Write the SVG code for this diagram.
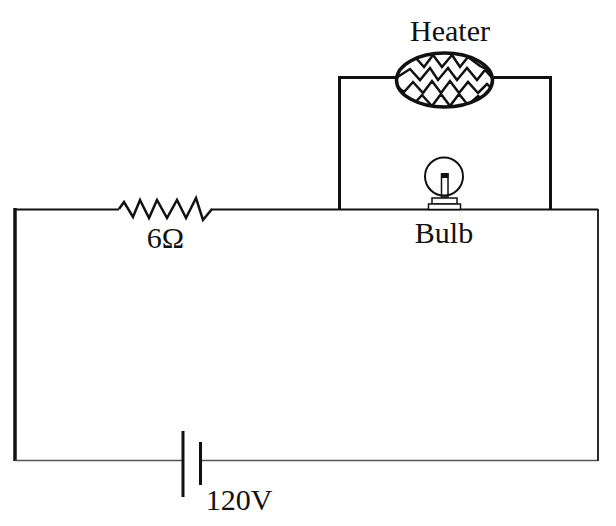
<svg xmlns="http://www.w3.org/2000/svg" width="616" height="526" viewBox="0 0 616 526">
<style>
.w{fill:none;stroke:#111;stroke-linejoin:miter}
.t{font-family:"Liberation Serif","Times New Roman",serif;fill:#111;text-anchor:middle;font-size:30px}
</style>
<defs><clipPath id="hc"><ellipse cx="444.500" cy="80" rx="48" ry="27"/></clipPath></defs>
<rect width="616" height="526" fill="#fff"/>
<g id="connectors">
<path class="w" stroke-width="2" d="M15 209.500H119M211 209.500H598"/>
<path class="w" stroke-width="3.500" d="M15 208V461"/>
<path class="w" stroke-width="1.500" style="stroke:#555" d="M15 460.500H183M201 460.500H598"/>
<path class="w" stroke-width="1.800" d="M598 209V461"/>
<path class="w" stroke-width="3" d="M339.500 209V77.500H396M494 77.500H550.500V209"/>
</g>
<g id="resistor">
<path class="w" stroke-width="2.500" d="M119 209L124 202L133 217L140 200L149 218L157 200L167 218L177 200L186 218L196 198L203 220L212 209"/>
<text class="t" x="165.500" y="248">6Ω</text>
</g>
<g id="heater">
<g clip-path="url(#hc)">
<path class="w" stroke-width="2.500" d="M405 62L415 57L424 67L433 55L442 67L452 55L460 67L468 57L480 66L492 72M396 78L410 69L420 80L430 68L438 80L448 68L457 80L467 68L477 80L485 70L496 82M396 86L404 92L413 82L423 93L432 81L441 93L450 81L459 93L468 82L478 93L487 84L496 92M400 92L413 105L422 95L432 106L441 94L450 106L459 94L468 105L478 96L490 104"/>
</g>
<ellipse class="w" stroke-width="3.500" cx="444.500" cy="80" rx="48" ry="27"/>
<text class="t" x="450" y="41">Heater</text>
</g>
<g id="bulb">
<circle class="w" stroke-width="2" cx="444" cy="176.500" r="19"/>
<rect class="w" stroke-width="1.500" x="441.500" y="174" width="6.500" height="23"/>
<rect x="441" y="173" width="7.500" height="5" fill="#111"/>
<rect x="432" y="198" width="25" height="6" fill="#fff" stroke="#111" stroke-width="1.500"/>
<rect x="428.500" y="204" width="32" height="5.500" fill="#fff" stroke="#111" stroke-width="1.500"/>
<text class="t" x="444" y="243">Bulb</text>
</g>
<g id="battery">
<path class="w" stroke-width="3" d="M183 431V497M200.500 442V485"/>
<text class="t" x="239" y="510">120V</text>
</g>
</svg>
